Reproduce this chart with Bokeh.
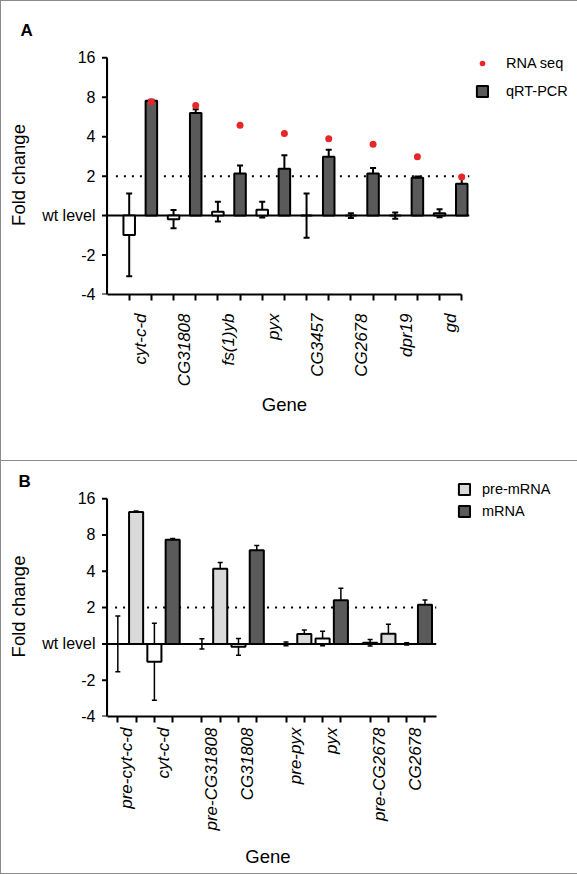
import math
from bokeh.plotting import figure
from bokeh.models import (Range1d, FixedTicker, Whisker, TeeHead,
                          ColumnDataSource, Legend, LegendItem)
from bokeh.layouts import column
from bokeh.embed import file_html
from bokeh.resources import INLINE

FONT = "Liberation Sans"

# ---------------- data (log2 fold change) ----------------
# Panel A
genes_a = ["cyt-c-d", "CG31808", "fs(1)yb", "pyx", "CG3457", "CG2678", "dpr19", "gd"]
ctrl_a = [-0.49, -0.09, 0.10, 0.15, 0.00, 0.00, 0.00, 0.06]
ctrl_a_err = [1.05, 0.23, 0.25, 0.20, 0.56, 0.06, 0.08, 0.10]
qpcr_a = [2.91, 2.60, 1.07, 1.19, 1.49, 1.07, 0.96, 0.81]
qpcr_a_err = [0.03, 0.10, 0.20, 0.34, 0.18, 0.14, 0.03, 0.19]
rnaseq_a = [2.89, 2.79, 2.29, 2.08, 1.95, 1.81, 1.49, 0.98]

# Panel B
genes_b = ["cyt-c-d", "CG31808", "pyx", "CG2678"]
pre_ctrl_b = [0.00, 0.00, 0.00, 0.03]
pre_ctrl_b_err = [0.77, 0.14, 0.05, 0.09]
pre_mrna_b = [3.63, 2.07, 0.27, 0.28]
pre_mrna_b_err = [0.03, 0.17, 0.11, 0.26]
m_ctrl_b = [-0.49, -0.08, 0.15, 0.00]
m_ctrl_b_err = [1.06, 0.23, 0.20, 0.03]
mrna_b = [2.87, 2.58, 1.20, 1.08]
mrna_b_err = [0.03, 0.13, 0.33, 0.13]

# y axis: log2 scale, labelled as fold change
y_ticks = [-2, -1, 0, 1, 2, 3, 4]
y_tick_labels = ["-4", "-2", "wt level", "2", "4", "8", "16"]

DARK = "#5a5a5a"
LIGHT = "#d9d9d9"
RED = "#e8262a"
BORDER = "1px solid #8c8c8c"
Y_TOP = 4.06
TICK_PX = 5
GAP_PX = 7.5        # frame edge to drawn y axis


def base_figure(letter, x_range, frame_w, frame_h, top, bottom, right,
                title_offset, title_standoff):
    p = figure(title=letter, x_range=x_range, y_range=Range1d(-2, Y_TOP),
               frame_width=frame_w, frame_height=frame_h,
               min_border_left=98, min_border_right=right,
               min_border_top=top, min_border_bottom=bottom,
               toolbar_location=None, output_backend="svg")
    p.grid.visible = False
    p.outline_line_color = None
    p.background_fill_color = "white"
    p.border_fill_color = "white"
    p.title.align = "left"
    p.title.offset = title_offset
    p.title.standoff = title_standoff
    p.title.text_font = FONT
    p.title.text_font_size = "17px"
    p.title.text_font_style = "bold"
    p.title.text_color = "black"

    ya = p.left[0]
    ya.ticker = FixedTicker(ticks=y_ticks)
    ya.major_label_overrides = {t: l for t, l in zip(y_ticks, y_tick_labels)}
    ya.axis_line_color = None
    ya.major_tick_line_color = None
    ya.minor_tick_line_color = None
    ya.major_tick_out = 0
    ya.major_tick_in = 0
    ya.major_label_text_font = FONT
    ya.major_label_text_font_size = "16px"
    ya.major_label_text_color = "black"
    ya.major_label_standoff = 4
    ya.axis_label = "Fold change"
    ya.axis_label_text_font = FONT
    ya.axis_label_text_font_size = "18.5px"
    ya.axis_label_text_font_style = "normal"
    ya.axis_label_text_color = "black"
    ya.axis_label_standoff = 10
    return p


def draw_y_rule(p, x_axis, unit_x):
    # y axis line and its outward ticks
    n = len(y_ticks)
    p.segment(x0=[x_axis], y0=[-2], x1=[x_axis], y1=[4], line_color="black",
              line_width=2)
    line_src = ColumnDataSource(dict(x=[x_axis] * (n - 1),
                                     lo=y_ticks[:-1], hi=y_ticks[1:]))
    p.add_layout(Whisker(source=line_src, base="x", lower="lo", upper="hi",
                         line_width=2, line_color="black",
                         upper_head=None, lower_head=None))
    tick_len = TICK_PX / unit_x
    p.segment(x0=[x_axis - tick_len] * n, y0=y_ticks, x1=[x_axis] * n, y1=y_ticks,
              line_color="black", line_width=2)


def style_x_axis(p, label_pos, labels, bar_pos, bounds, standoff, title_standoff):
    ax = p.below[0]
    ax.bounds = bounds
    ax.ticker = FixedTicker(ticks=list(label_pos), minor_ticks=list(bar_pos))
    ax.major_label_overrides = {pos: lab for pos, lab in zip(label_pos, labels)}
    ax.axis_line_width = 2
    ax.axis_line_color = "black"
    ax.major_tick_in = 0
    ax.major_tick_out = 0
    ax.minor_tick_in = 0
    ax.minor_tick_out = 6
    ax.minor_tick_line_width = 2
    ax.minor_tick_line_color = "black"
    ax.major_label_orientation = math.pi / 2
    ax.major_label_text_font = FONT
    ax.major_label_text_font_size = "17px"
    ax.major_label_text_font_style = "italic"
    ax.major_label_text_color = "black"
    ax.major_label_standoff = standoff
    ax.axis_label = "Gene"
    ax.axis_label_text_font = FONT
    ax.axis_label_text_font_size = "18.5px"
    ax.axis_label_text_font_style = "normal"
    ax.axis_label_text_color = "black"
    ax.axis_label_standoff = title_standoff


def add_errors(p, xs, vals, errs, width, head):
    src = ColumnDataSource(dict(x=xs,
                                lo=[v - e for v, e in zip(vals, errs)],
                                hi=[v + e for v, e in zip(vals, errs)]))
    w = Whisker(source=src, base="x", lower="lo", upper="hi",
                line_width=width, line_color="black",
                upper_head=TeeHead(size=head, line_width=width, line_color="black"),
                lower_head=TeeHead(size=head, line_width=width, line_color="black"))
    p.add_layout(w)


# ---------------- Panel A ----------------
na = len(genes_a)
xa_ctrl = [2 * i + 1 for i in range(na)]
xa_qpcr = [2 * i + 2 for i in range(na)]
xa_lab = [2 * i + 1.5 for i in range(na)]
UA = 22.07                       # px per x unit
xa_start, xa_end = -GAP_PX / UA, 16.35
FA_W, FA_H = 368, 237

pA = base_figure("A", Range1d(xa_start, xa_end), FA_W, FA_H, 54, 168, 109, -79, 31)

pA.segment(x0=[0.4], y0=[1], x1=[xa_end], y1=[1], line_color="black",
           line_width=2, line_dash="2 6")
pA.segment(x0=[0], y0=[0], x1=[xa_end], y1=[0], line_color="black", line_width=2)
pA.vbar(x=xa_ctrl, top=ctrl_a, bottom=0, width=0.52, fill_color="white",
        line_color="black", line_width=2)
bars_a = pA.vbar(x=xa_qpcr, top=qpcr_a, bottom=0, width=0.52, fill_color=DARK,
                 line_color="black", line_width=2)
add_errors(pA, xa_ctrl, ctrl_a, ctrl_a_err, 2, 6)
add_errors(pA, xa_qpcr, qpcr_a, qpcr_a_err, 2, 6)
dots_a = pA.scatter(x=xa_qpcr, y=rnaseq_a, size=7, fill_color=RED, line_color=None)
draw_y_rule(pA, 0, UA)
style_x_axis(pA, xa_lab, genes_a, xa_ctrl + xa_qpcr, (0, 16), 13, 5)

legA = Legend(items=[LegendItem(label="RNA seq", renderers=[dots_a]),
                     LegendItem(label="qRT-PCR", renderers=[bars_a])],
              location=(6, 195), orientation="vertical",
              glyph_width=14, glyph_height=14, label_height=14, spacing=12,
              padding=0, margin=0, label_standoff=17,
              border_line_color=None, background_fill_alpha=0,
              label_text_font=FONT, label_text_font_size="14.5px",
              label_text_color="black")
pA.add_layout(legA, "right")
pA.styles = {"border": BORDER}

# ---------------- Panel B ----------------
nb = len(genes_b)
gstep = 4.6
xb_pre_ctrl = [round(g * gstep, 2) for g in range(nb)]
xb_pre = [round(g * gstep + 1, 2) for g in range(nb)]
xb_m_ctrl = [round(g * gstep + 2, 2) for g in range(nb)]
xb_m = [round(g * gstep + 3, 2) for g in range(nb)]
xb_lab, labels_b = [], []
for g, name in enumerate(genes_b):
    xb_lab += [round(g * gstep + 0.5, 2), round(g * gstep + 2.5, 2)]
    labels_b += ["pre-" + name, name]
UB = 18.2
xb_axis, xb_end = -0.59, 17.43
xb_start = xb_axis - GAP_PX / UB
FB_W, FB_H = 335, 219

pB = base_figure("B", Range1d(xb_start, xb_end), FB_W, FB_H, 35, 158, 142, -81, 12)

pB.segment(x0=[xb_axis + 0.44], y0=[1], x1=[xb_end], y1=[1], line_color="black",
           line_width=2, line_dash="2 6")
pB.segment(x0=[xb_axis], y0=[0], x1=[xb_end], y1=[0], line_color="black", line_width=2)
pB.vbar(x=xb_pre_ctrl, top=pre_ctrl_b, bottom=0, width=0.77, fill_color="white",
        line_color="black", line_width=2)
pB.vbar(x=xb_m_ctrl, top=m_ctrl_b, bottom=0, width=0.77, fill_color="white",
        line_color="black", line_width=2)
pre_bars = pB.vbar(x=xb_pre, top=pre_mrna_b, bottom=0, width=0.77, fill_color=LIGHT,
                   line_color="black", line_width=2)
m_bars = pB.vbar(x=xb_m, top=mrna_b, bottom=0, width=0.77, fill_color=DARK,
                 line_color="black", line_width=2)
add_errors(pB, xb_pre_ctrl, pre_ctrl_b, pre_ctrl_b_err, 1.5, 5)
add_errors(pB, xb_pre, pre_mrna_b, pre_mrna_b_err, 1.5, 5)
add_errors(pB, xb_m_ctrl, m_ctrl_b, m_ctrl_b_err, 1.5, 5)
add_errors(pB, xb_m, mrna_b, mrna_b_err, 1.5, 5)
draw_y_rule(pB, xb_axis, UB)
style_x_axis(pB, xb_lab, labels_b, xb_pre_ctrl + xb_pre + xb_m_ctrl + xb_m,
             (xb_axis, xb_end), 5, 12)

legB = Legend(items=[LegendItem(label="pre-mRNA", renderers=[pre_bars]),
                     LegendItem(label="mRNA", renderers=[m_bars])],
              location=(21, 197), orientation="vertical",
              glyph_width=14, glyph_height=14, label_height=14, spacing=6,
              padding=0, margin=0, label_standoff=11,
              border_line_color=None, background_fill_alpha=0,
              label_text_font=FONT, label_text_font_size="14.5px",
              label_text_color="black")
pB.add_layout(legB, "right")
pB.styles = {"border-left": BORDER, "border-right": BORDER, "border-bottom": BORDER}

layout = column(pA, pB, spacing=0)
open("out.html", "w").write(file_html(layout, INLINE))
